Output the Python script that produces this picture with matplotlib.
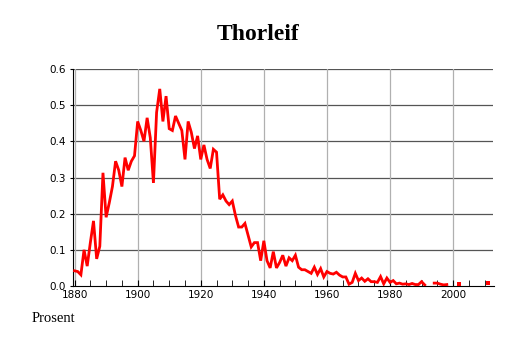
import numpy as np
import matplotlib
matplotlib.use("Agg")
import matplotlib.pyplot as plt
from matplotlib.ticker import MultipleLocator

years = list(range(1880, 2013))
values = [
    0.042, 0.040, 0.031, 0.100, 0.055, 0.120, 0.180, 0.075, 0.110, 0.313,  # 1880-1889
    0.190, 0.230, 0.275, 0.345, 0.320, 0.275, 0.355, 0.320, 0.345, 0.360,  # 1890-1899
    0.455, 0.430, 0.400, 0.465, 0.410, 0.285, 0.480, 0.545, 0.455, 0.525,  # 1900-1909
    0.435, 0.430, 0.470, 0.450, 0.430, 0.350, 0.455, 0.425, 0.380, 0.415,  # 1910-1919
    0.350, 0.390, 0.350, 0.325, 0.378, 0.370, 0.240, 0.252, 0.235, 0.225,  # 1920-1929
    0.235, 0.195, 0.163, 0.163, 0.173, 0.140, 0.108, 0.120, 0.120, 0.070,  # 1930-1939
    0.125, 0.070, 0.050, 0.095, 0.050, 0.065, 0.085, 0.055, 0.078, 0.070,  # 1940-1949
    0.085, 0.052, 0.045, 0.045, 0.040, 0.035, 0.052, 0.032, 0.048, 0.025,  # 1950-1959
    0.040, 0.035, 0.033, 0.038, 0.030, 0.025, 0.025, 0.005, 0.010, 0.035,  # 1960-1969
    0.015, 0.022, 0.013, 0.020, 0.012, 0.012, 0.010, 0.026, 0.006, 0.022,  # 1970-1979
    0.010, 0.015, 0.006, 0.008, 0.005, 0.006, 0.004, 0.007, 0.004, 0.004,  # 1980-1989
    0.012, 0.003, np.nan, np.nan, 0.008, 0.008, 0.005, 0.003, 0.004, np.nan,  # 1990-1999
    np.nan, np.nan, 0.005, np.nan, np.nan, np.nan, np.nan, np.nan, np.nan, np.nan,  # 2000-2009
    np.nan, 0.008, np.nan,  # 2010-2012
]

title = "Thorleif"
ylabel_text = "Prosent"
xticks = [1880, 1900, 1920, 1940, 1960, 1980, 2000]
yticks = [0.0, 0.1, 0.2, 0.3, 0.4, 0.5, 0.6]

y = np.array(values, dtype=float)
x = np.array(years)

fig = plt.figure(figsize=(5.14, 3.43), dpi=100)
ax = fig.add_axes([73/514, 1 - 286/343, (493.5-73)/514, (286-69)/343])

for yy in yticks[1:]:
    ax.axhline(yy, color="#555555", lw=0.9, zorder=1)
for xx in xticks:
    ax.axvline(xx, color="#b0b0b0", lw=0.9, zorder=1)

ax.plot(x, y, color="#ff0000", lw=2.0, solid_joinstyle="miter", zorder=3)
iso = []
for i in range(len(y)):
    if np.isnan(y[i]):
        continue
    prev_nan = i == 0 or np.isnan(y[i-1])
    next_nan = i == len(y)-1 or np.isnan(y[i+1])
    if prev_nan and next_nan:
        iso.append(i)
ax.plot(x[iso], y[iso], "s", color="#ff0000", ms=2.6, mew=0, zorder=3)

ax.set_xlim(1879.5, 2012.8)
ax.set_ylim(0, 0.6)
ax.set_xticks(xticks)
ax.set_yticks(yticks)
ax.set_yticklabels([f"{v:.1f}" for v in yticks])
ax.xaxis.set_minor_locator(MultipleLocator(5))
ax.tick_params(axis="x", which="both", direction="in", length=4, labelsize=7.5, pad=3)
ax.tick_params(axis="y", direction="out", length=2, labelsize=7.5, pad=3)
for s in ["top", "right"]:
    ax.spines[s].set_visible(False)
ax.spines["left"].set_linewidth(0.8)
ax.spines["bottom"].set_linewidth(0.8)

fig.text(258/514, 1 - 34/343, title, ha="center", va="center",
         fontsize=17, fontweight="bold", family="Liberation Serif")
fig.text(32/514, 1 - 318/343, ylabel_text, ha="left", va="center",
         fontsize=10.5, family="Liberation Serif")

fig.savefig("out.png", dpi=100)
